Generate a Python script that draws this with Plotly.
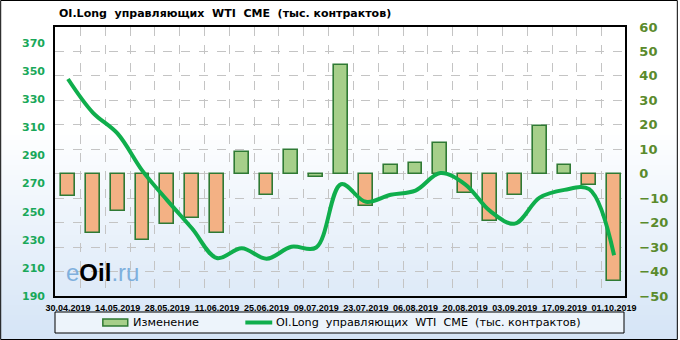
import plotly.graph_objects as go

# ---------------- data ----------------
dates = ["2019-04-30", "2019-05-07", "2019-05-14", "2019-05-21", "2019-05-28", "2019-06-04",
         "2019-06-11", "2019-06-18", "2019-06-25", "2019-07-02", "2019-07-09", "2019-07-16",
         "2019-07-23", "2019-07-30", "2019-08-06", "2019-08-13", "2019-08-20", "2019-08-27",
         "2019-09-03", "2019-09-10", "2019-09-17", "2019-09-24", "2019-10-01"]
change = [-9.1, -24.1, -15.1, -27.1, -20.6, -18.2, -24.1, 8.9, -8.7, 9.7, -1.2, 44.4,
          -13.0, 3.6, 4.5, 12.7, -8.0, -19.2, -8.7, 19.5, 3.6, -4.6, -43.9]
oi_long = [344.4, 320.5, 305.5, 279.0, 258.0, 238.0, 217.0, 224.0, 216.5, 225.0, 224.5, 269.5,
           257.0, 262.0, 265.0, 277.5, 269.5, 250.5, 241.5, 260.0, 265.5, 266.0, 219.0]
left_ticks = [190, 210, 230, 250, 270, 290, 310, 330, 350, 370]
name_change = "Изменение"
name_line = "OI.Long  управляющих  WTI  CME  (тыс. контрактов)"
title_text = "OI.Long  управляющих  WTI  CME  (тыс. контрактов)"

# ---------------- geometry helpers ----------------
W, H = 680, 340
L, R, T, B = 55, 53, 27, 44
PW, PH = W - L - R, H - T - B


def fx(p):
    return (p - L) / PW


def fy(p):
    return (H - B - p) / PH


NB = "\u00a0"
GREEN_LINE = "#0fae4c"
BAR_POS = "#a6cf8a"
BAR_NEG = "#f3b184"
BAR_EDGE = "#2f7a34"

bar_colors = [BAR_POS if v > -2 else BAR_NEG for v in change]

fig = go.Figure()
fig.add_trace(go.Bar(
    x=dates, y=change, name=name_change, yaxis="y",
    width=3.9 * 86400000,
    marker=dict(color=bar_colors, line=dict(color=BAR_EDGE, width=1.6)),
    showlegend=False,
))
fig.add_trace(go.Scatter(
    x=dates, y=oi_long, name=name_line, yaxis="y2", mode="lines",
    line=dict(color=GREEN_LINE, width=4, shape="spline", smoothing=1.0),
    showlegend=False,
))

shapes = []
# background gradient (white -> light blue)
top_c = (255, 255, 255)
bot_c = (212, 228, 246)
y_start, y_end, n = 130, 340, 42
step = (y_end - y_start) / n
for i in range(n):
    t = (i + 0.5) / n
    c = tuple(int(round(top_c[k] + (bot_c[k] - top_c[k]) * t)) for k in range(3))
    shapes.append(dict(type="rect", xref="paper", yref="paper",
                       x0=fx(0), x1=fx(W), y0=fy(y_start + (i + 1) * step + 0.5),
                       y1=fy(y_start + i * step),
                       fillcolor="rgb(%d,%d,%d)" % c, line=dict(width=0), layer="below"))
# outer frame
shapes.append(dict(type="rect", xref="paper", yref="paper",
                   x0=fx(0.5), x1=fx(W - 0.5), y0=fy(H - 0.5), y1=fy(0.5),
                   line=dict(color="black", width=1), fillcolor="rgba(0,0,0,0)", layer="above"))
# legend box
shapes.append(dict(type="rect", xref="paper", yref="paper",
                   x0=fx(55), x1=fx(626), y0=fy(333), y1=fy(312),
                   line=dict(color="black", width=1), fillcolor="rgba(255,255,255,0.55)",
                   layer="above"))
# legend icons
shapes.append(dict(type="rect", xref="paper", yref="paper",
                   x0=fx(103), x1=fx(128), y0=fy(326), y1=fy(319),
                   line=dict(color=BAR_EDGE, width=1.5), fillcolor=BAR_POS, layer="above"))
shapes.append(dict(type="line", xref="paper", yref="paper",
                   x0=fx(246), x1=fx(273), y0=fy(322.5), y1=fy(322.5),
                   line=dict(color=GREEN_LINE, width=4), layer="above"))

annotations = [
    dict(text=name_change, xref="paper", yref="paper", x=fx(131), y=fy(322.5),
         xanchor="left", yanchor="middle", showarrow=False,
         font=dict(family="DejaVu Sans", size=11.3, color="black")),
    dict(text=name_line.replace(" ", NB), xref="paper", yref="paper", x=fx(275), y=fy(322.5),
         xanchor="left", yanchor="middle", showarrow=False,
         font=dict(family="DejaVu Sans", size=11.2, color="black")),
    dict(text=title_text.replace(" ", NB), xref="paper", yref="paper", x=fx(57), y=fy(14),
         xanchor="left", yanchor="middle", showarrow=False,
         font=dict(family="DejaVu Sans", size=11, color="black", weight="bold")),
    dict(text="<span style='color:#7fb0dd'>e</span><b>Oil</b><span style='color:#7fb0dd'>.ru</span>",
         xref="paper", yref="paper", x=fx(64), y=fy(272),
         xanchor="left", yanchor="middle", showarrow=False,
         font=dict(family="Liberation Sans", size=24, color="black")),
]

fig.update_layout(
    width=W, height=H,
    margin=dict(l=L, r=R, t=T, b=B, pad=0),
    paper_bgcolor="white",
    plot_bgcolor="rgba(0,0,0,0)",
    bargap=0,
    shapes=shapes,
    annotations=annotations,
    xaxis=dict(
        type="date",
        range=["2019-04-26 08:00", "2019-10-04 02:00"],
        tick0="2019-04-30", dtick=14 * 86400000, tickformat="%d.%m.%Y",
        tickfont=dict(family="Liberation Sans", size=9, color="black", weight="bold"),
        tickangle=0, ticklabelstandoff=2,
        showgrid=False, ticks="", ticklen=0,
        showline=True, linecolor="black", linewidth=1.5, mirror=True,
        minor=dict(tick0="2019-04-26 12:00", dtick=7 * 86400000, showgrid=True,
                   gridcolor="#c4c4c4", gridwidth=1, griddash="dash", ticks=""),
    ),
    yaxis=dict(
        side="right", range=[-50, 60], dtick=10, tick0=0,
        showgrid=True, gridcolor="#c4c4c4", gridwidth=1, griddash="dash",
        zeroline=False,
        tickfont=dict(family="DejaVu Sans", size=13, color="#5a8a2c", weight="bold"),
        ticks="", ticklabelstandoff=10,
        showline=True, linecolor="black", linewidth=1.5, mirror=True,
    ),
    yaxis2=dict(
        overlaying="y", side="left", range=[190, 381.4],
        tickvals=left_ticks, showgrid=False, zeroline=False,
        tickfont=dict(family="DejaVu Sans", size=11, color="#19a85a", weight="bold"),
        ticks="", ticklabelstandoff=9,
    ),
)

fig.write_html("out.html")
